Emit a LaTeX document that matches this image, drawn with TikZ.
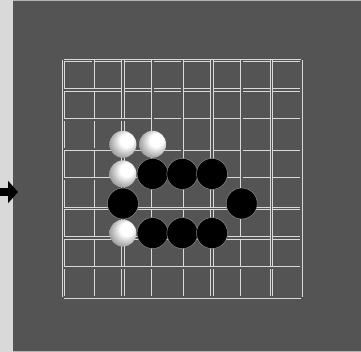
\documentclass[tikz,border=0pt]{standalone}
\usetikzlibrary{arrows.meta}
\definecolor{bg}{gray}{0.33}
\definecolor{strip}{gray}{0.85}
\pgfdeclareradialshading{wstone}{\pgfpoint{9bp}{10bp}}{color(0bp)=(white); color(12bp)=(white); color(28bp)=(black!35); color(50bp)=(black!70)}
\tikzset{
  gridline/.style={draw=white!85!black, line width=0.7pt, double=bg, double distance=1.8pt},
  bstone/.style={circle, fill=black, draw=black!45, line width=0.5pt, minimum size=31pt, inner sep=0pt},
  wstone/.style={circle, shading=wstone, minimum size=27pt, inner sep=0pt},
}
\begin{document}
\begin{tikzpicture}[x=1pt,y=-1pt]
\useasboundingbox (0,0) rectangle (361,352);
\fill[strip] (0,0) rectangle (13,352);
\fill[bg] (13,0) rectangle (361,352);
\draw[white!70!black, line width=0.6pt] (13,0.5) -- (361,0.5);
\draw[white!70!black, line width=0.6pt] (13,351.5) -- (361,351.5);
% grid
\foreach \i in {0,...,8} {
  \draw[gridline] ({63.5+29.7*\i},60.5) -- ({63.5+29.7*\i},297.3);
  \draw[gridline] (63.5,{60.5+29.6*\i}) -- (301,{60.5+29.6*\i});
}
% stones
\foreach \i/\j/\n in {2/3/w1,3/3/w2,2/4/w3,2/6/w4}
  \node[wstone] (\n) at ({63.5+29.7*\i},{55.5+29.6*\j}) {};
\foreach \i/\j/\n in {3/4/b1,4/4/b2,5/4/b3,2/5/b4,6/5/b5,3/6/b6,4/6/b7,5/6/b8}
  \node[bstone] (\n) at ({63.5+29.7*\i},{55.5+29.6*\j}) {};
% arrow
\coordinate (arrowstart) at (0,192);
\coordinate (arrowend) at (18,192);
\draw[black, line width=8pt, -{Triangle[width=22pt,length=10pt]}] (arrowstart) -- (arrowend);
\end{tikzpicture}
\end{document}
